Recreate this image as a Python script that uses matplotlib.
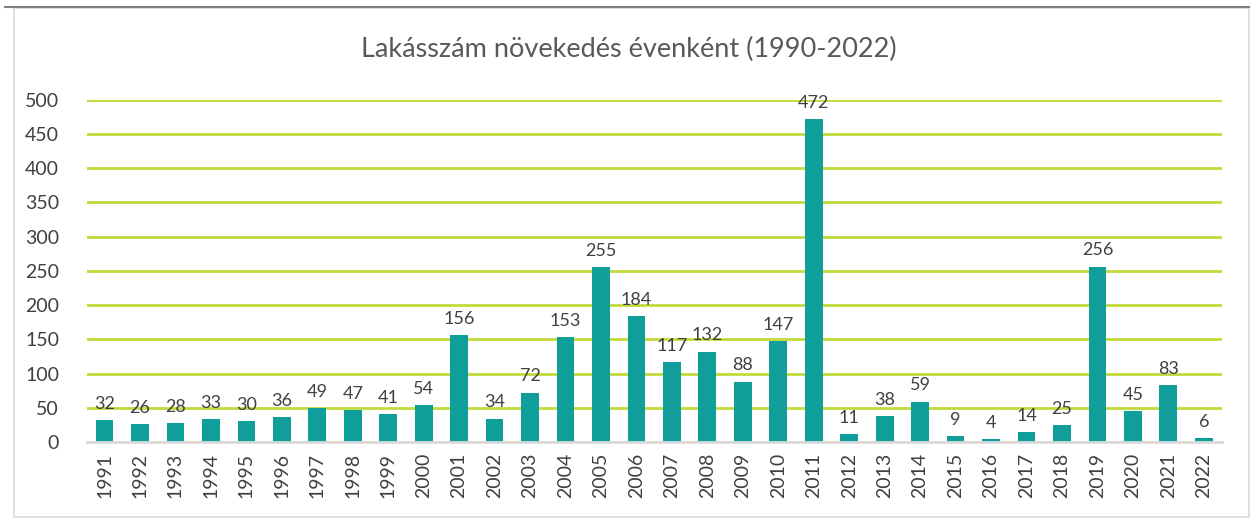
import numpy as np
import matplotlib.pyplot as plt
from matplotlib.patches import Rectangle

years = [str(y) for y in range(1991, 2023)]
values = [32, 26, 28, 33, 30, 36, 49, 47, 41, 54, 156, 34, 72, 153, 255, 184,
          117, 132, 88, 147, 472, 11, 38, 59, 9, 4, 14, 25, 256, 45, 83, 6]

bar_color = "#0F9E99"
grid_color = "#C3D93B"
text_color = "#404040"

plt.rcParams['font.family'] = ['Lato', 'DejaVu Sans']

fig = plt.figure(figsize=(12.58, 5.2), dpi=100)
ax = fig.add_axes([0.069, 0.15, 0.902, 0.658])

# chart frame
fig.patches.append(Rectangle((0.011, 0.005), 0.982, 0.98, transform=fig.transFigure,
                             fill=False, edgecolor="#D9D9D9", linewidth=1.2))
fig.add_artist(plt.Line2D([0.004, 0.993], [0.987, 0.987], transform=fig.transFigure,
                          color="#808080", linewidth=1.5))

x = np.arange(len(years))
ax.bar(x, values, width=0.5, color=bar_color, zorder=3)

for xi, v in zip(x, values):
    ax.annotate(str(v), (xi, v), xytext=(0, 6), textcoords="offset points",
                ha="center", va="bottom", fontsize=13, color=text_color)

ax.set_ylim(0, 500)
ax.set_xlim(-0.5, len(years) - 0.5)
ax.set_yticks(range(0, 501, 50))
ax.set_xticks(x)
ax.set_xticklabels(years, rotation=90)
ax.yaxis.grid(True, color=grid_color, linewidth=2, zorder=0)
ax.tick_params(axis="both", length=0, labelsize=14, labelcolor=text_color)
ax.tick_params(axis="y", pad=20)
ax.tick_params(axis="x", pad=8)
for s in ["top", "right", "left"]:
    ax.spines[s].set_visible(False)
ax.spines["bottom"].set_color("#D9D9D9")
ax.spines["bottom"].set_linewidth(2)
ax.spines["bottom"].set_zorder(4)

fig.text(0.5, 0.905, "Lakásszám növekedés évenként (1990-2022)", ha="center", va="center",
         fontsize=19.5, color="#595959")

fig.savefig("out.png", dpi=100)
